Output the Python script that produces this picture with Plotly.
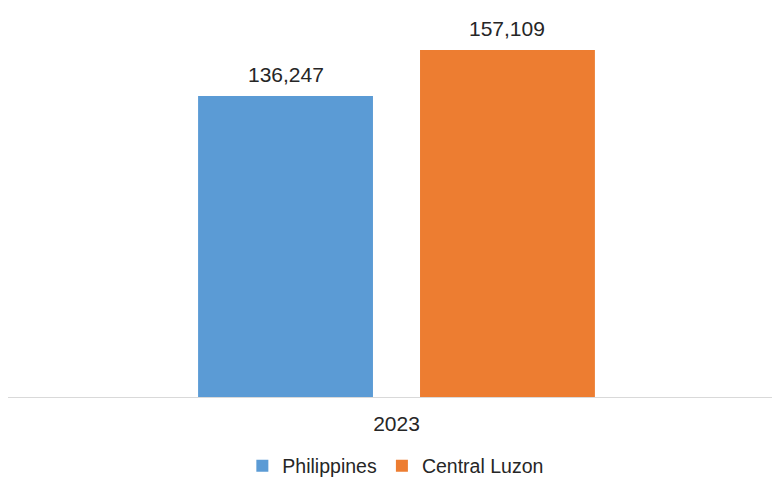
import plotly.graph_objects as go

categories = ["2023"]
series_names = ["Philippines", "Central Luzon"]
philippines = [136247]
central_luzon = [157109]
colors = ["#5B9BD5", "#ED7D31"]

FONT = "Liberation Sans, Arial"
TXT = "#262626"
BARGAP = 0.419
GROUPGAP = 0.212

fig = go.Figure()
series = [philippines, central_luzon]
for name, vals, col in zip(series_names, series, colors):
    fig.add_trace(go.Bar(
        x=categories, y=vals, name=name, marker_color=col,
        marker_line_width=0, hoverinfo="x+y+name",
    ))

# value labels above each bar, positioned at each bar's slot within the group
slot = (1 - BARGAP) / len(series)
for i, vals in enumerate(series):
    off = -(1 - BARGAP) / 2 + slot * (i + 0.5)
    for ci, v in enumerate(vals):
        fig.add_annotation(
            x=ci + off, y=v, xref="x", yref="y", text=f"{v:,}",
            showarrow=False, yanchor="bottom", yshift=8,
            font=dict(size=21, color=TXT, family=FONT),
        )

fig.update_layout(
    width=772, height=477,
    margin=dict(l=8, r=0, t=0, b=80, autoexpand=False),
    paper_bgcolor="white", plot_bgcolor="white",
    barmode="group", bargap=BARGAP, bargroupgap=GROUPGAP,
    font=dict(family=FONT, size=20, color=TXT),
    showlegend=True,
    legend=dict(orientation="h", x=0.507, xanchor="center", y=-0.174, yanchor="middle",
                font=dict(size=19.5, color=TXT, family=FONT), itemwidth=30),
    xaxis=dict(type="category", range=[-0.5085, 0.4915], showline=True, linecolor="#D9D9D9",
               linewidth=1, ticks="", tickfont=dict(size=21, color=TXT, family=FONT),
               showgrid=False, automargin=False, ticklabelstandoff=8),
    yaxis=dict(range=[0, 179700], visible=False, showgrid=False, zeroline=False, automargin=False),
)

fig.write_html("out.html", config={"displayModeBar": False},
               post_script="document.body.style.margin='0';document.body.style.overflow='hidden';")
